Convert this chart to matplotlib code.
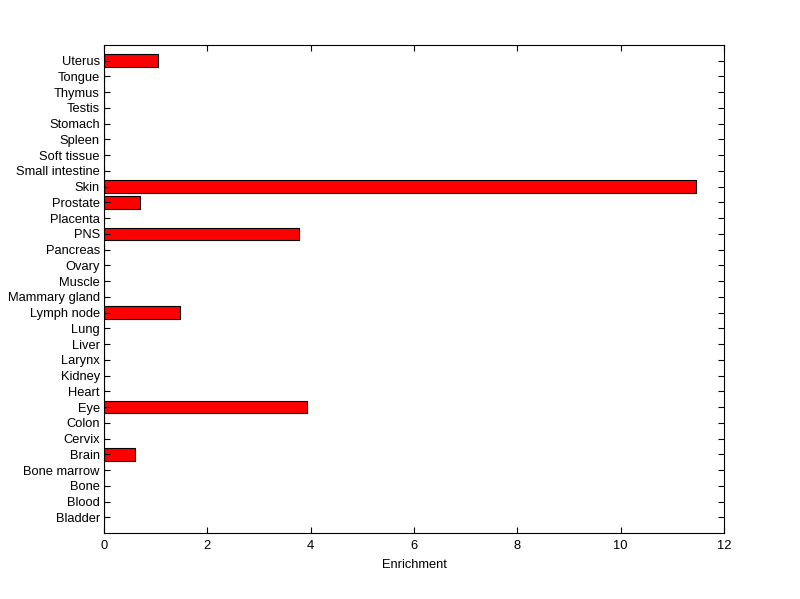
import matplotlib
matplotlib.use("Agg")
import matplotlib.pyplot as plt
import numpy as np

tissues = ["Bladder", "Blood", "Bone", "Bone marrow", "Brain", "Cervix", "Colon",
           "Eye", "Heart", "Kidney", "Larynx", "Liver", "Lung", "Lymph node",
           "Mammary gland", "Muscle", "Ovary", "Pancreas", "PNS", "Placenta",
           "Prostate", "Skin", "Small intestine", "Soft tissue", "Spleen",
           "Stomach", "Testis", "Thymus", "Tongue", "Uterus"]
enrichment = [0, 0, 0, 0, 0.60, 0, 0,
              3.92, 0, 0, 0, 0, 0, 1.47,
              0, 0, 0, 0, 3.78, 0,
              0.70, 11.46, 0, 0, 0,
              0, 0, 0, 0, 1.05]

plt.rcParams["font.family"] = ["Liberation Sans", "DejaVu Sans"]
plt.rcParams["font.size"] = 9.3

fig = plt.figure(figsize=(8, 5.99), dpi=100)
ax = fig.add_axes([0.13, 0.11, 0.775, 0.815])

pos = np.arange(1, len(tissues) + 1)
ax.barh(pos, enrichment, height=0.8, color="#ff0000", edgecolor="black", linewidth=0.8)

ax.set_xlim(0, 12)
ax.set_ylim(0, len(tissues) + 1)
ax.set_xticks(np.arange(0, 13, 2))
ax.set_yticks(pos)
ax.set_yticklabels(tissues)
ax.set_xlabel("Enrichment", labelpad=5)

ax.tick_params(direction="in", top=True, right=True, length=4.5, width=0.8, pad=3)
ax.tick_params(axis="x", pad=5)
for s in ax.spines.values():
    s.set_linewidth(0.8)

fig.savefig("out.png", dpi=100)
